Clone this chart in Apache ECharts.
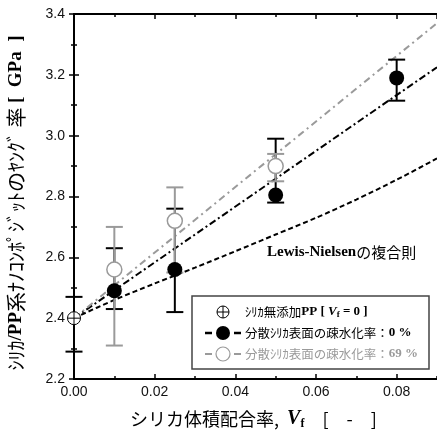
<!DOCTYPE html>
<html><head><meta charset="utf-8">
<script src="https://cdn.jsdelivr.net/npm/echarts@6/dist/echarts.min.js"></script>
<style>html,body{margin:0;padding:0;background:#fff}#c{width:437px;height:438px}</style>
</head><body><div id="c"></div>
<script>
// ---- data ----
const xTickLabels = ['0.00', '0.02', '0.04', '0.06', '0.08'];

const vfPure = [0.00];
const ePure = [2.40];
const ePureLow = [2.29];
const ePureHigh = [2.47];

const vf0 = [0.01, 0.025, 0.05, 0.08];
const e0 = [2.49, 2.56, 2.805, 3.19];
const e0Low = [2.43, 2.42, 2.78, 3.115];
const e0High = [2.63, 2.76, 2.99, 3.25];

const vf69 = [0.01, 0.025, 0.05];
const e69 = [2.56, 2.72, 2.90];
const e69Low = [2.31, 2.55, 2.85];
const e69High = [2.70, 2.83, 2.94];

const lnVf = [0, 0.01, 0.02, 0.03, 0.04, 0.05, 0.06, 0.07, 0.08, 0.09];
const lnE = [2.400, 2.460, 2.514, 2.566, 2.620, 2.675, 2.730, 2.790, 2.855, 2.925];

const fit0Vf = [0, 0.09];
const fit0E = [2.40, 3.225];
const fit69Vf = [0, 0.09];
const fit69E = [2.40, 3.37];

// ---- helpers ----
const zip = (a, b) => a.map((v, i) => [v, b[i]]);
const zip3 = (a, b, c) => a.map((v, i) => [v, b[i], c[i]]);
const GREY = '#9a9a9a';
const JP = '"Noto Sans CJK JP", sans-serif';
const SERIF = '"Liberation Serif", "DejaVu Serif", serif';
const SANS = '"Liberation Sans", Arial, sans-serif';

function errRender(color) {
  return function (params, api) {
    const x = api.value(0), lo = api.value(1), hi = api.value(2);
    const p1 = api.coord([x, lo]), p2 = api.coord([x, hi]);
    const hw = 8.5;
    const st = { stroke: color, lineWidth: 2 };
    return { type: 'group', children: [
      { type: 'line', shape: { x1: p1[0], y1: p1[1], x2: p2[0], y2: p2[1] }, style: st },
      { type: 'line', shape: { x1: p1[0] - hw, y1: p1[1], x2: p1[0] + hw, y2: p1[1] }, style: st },
      { type: 'line', shape: { x1: p2[0] - hw, y1: p2[1], x2: p2[0] + hw, y2: p2[1] }, style: st }
    ]};
  };
}
function oplusRender(params, api) {
  const p = api.coord([api.value(0), api.value(1)]);
  const r = 6.5;
  const st = { stroke: '#000', lineWidth: 1 };
  return { type: 'group', children: [
    { type: 'circle', shape: { cx: p[0], cy: p[1], r: r }, style: { fill: '#fff', stroke: '#000', lineWidth: 1 } },
    { type: 'line', shape: { x1: p[0] - r, y1: p[1], x2: p[0] + r, y2: p[1] }, style: st },
    { type: 'line', shape: { x1: p[0], y1: p[1] - r, x2: p[0], y2: p[1] + r }, style: st }
  ]};
}

const chart = echarts.init(document.getElementById('c'), null, { renderer: 'canvas' });

const axisLineStyle = { show: true, lineStyle: { color: '#000', width: 2 } };
const tickStyle = { color: '#000', width: 1.5 };
const xBase = { type: 'value', min: 0, max: 0.09, gridIndex: 0, splitLine: { show: false } };
const fmtX = v => { const s = v.toFixed(2); return xTickLabels.indexOf(s) >= 0 ? s : ''; };

const option = {
  animation: false,
  backgroundColor: '#fff',
  grid: { left: 74, top: 14, width: 364, height: 365, containLabel: false },
  xAxis: [
    Object.assign({}, xBase, {
      position: 'bottom', interval: 0.02, axisLine: axisLineStyle,
      axisTick: { show: true, inside: true, length: 5, lineStyle: tickStyle },
      axisLabel: { show: true, showMaxLabel: false, margin: 6, fontSize: 14, color: '#111', fontFamily: SANS, formatter: fmtX }
    }),
    Object.assign({}, xBase, {
      position: 'bottom', interval: 0.01, axisLine: { show: false },
      axisTick: { show: true, inside: true, length: 3, lineStyle: tickStyle },
      axisLabel: { show: false }
    }),
    Object.assign({}, xBase, {
      position: 'top', interval: 0.02, axisLine: axisLineStyle,
      axisTick: { show: true, inside: true, length: 5, lineStyle: tickStyle },
      axisLabel: { show: false }
    }),
    Object.assign({}, xBase, {
      position: 'top', interval: 0.01, axisLine: { show: false },
      axisTick: { show: true, inside: true, length: 3, lineStyle: tickStyle },
      axisLabel: { show: false }
    })
  ],
  yAxis: [
    {
      type: 'value', min: 2.2, max: 3.4, interval: 0.2, position: 'left',
      axisLine: axisLineStyle, splitLine: { show: false },
      axisTick: { show: true, inside: true, length: 5, lineStyle: tickStyle },
      minorTick: { show: true, splitNumber: 2, length: 3, lineStyle: tickStyle },
      axisLabel: { margin: 9, fontSize: 14, color: '#111', fontFamily: SANS, formatter: v => v.toFixed(1) }
    },
    {
      type: 'value', min: 2.2, max: 3.4, interval: 0.2, position: 'right',
      axisLine: axisLineStyle, splitLine: { show: false },
      axisTick: { show: true, inside: true, length: 5, lineStyle: tickStyle },
      minorTick: { show: true, splitNumber: 2, length: 3, lineStyle: tickStyle },
      axisLabel: { show: false }
    }
  ],
  series: [
    { type: 'line', name: 'Lewis-Nielsen', data: zip(lnVf, lnE), showSymbol: false, smooth: 0.3,
      lineStyle: { color: '#000', width: 2, type: [5, 3] }, z: 2, silent: true },
    { type: 'line', name: 'fit0', data: zip(fit0Vf, fit0E), showSymbol: false,
      lineStyle: { color: '#000', width: 2, type: [7, 3, 2, 3] }, z: 2, silent: true },
    { type: 'line', name: 'fit69', data: zip(fit69Vf, fit69E), showSymbol: false,
      lineStyle: { color: GREY, width: 2, type: [7, 4, 2, 4] }, z: 2, silent: true },
    { type: 'custom', name: 'errPure', renderItem: errRender('#000'), data: zip3(vfPure, ePureLow, ePureHigh), encode: { x: 0, y: [1, 2] }, z: 3 },
    { type: 'custom', name: 'err0', renderItem: errRender('#000'), data: zip3(vf0, e0Low, e0High), encode: { x: 0, y: [1, 2] }, z: 3 },
    { type: 'custom', name: 'err69', renderItem: errRender(GREY), data: zip3(vf69, e69Low, e69High), encode: { x: 0, y: [1, 2] }, z: 3 },
    { type: 'scatter', name: 'pt0', data: zip(vf0, e0), symbol: 'circle', symbolSize: 15,
      itemStyle: { color: '#000', opacity: 1 }, z: 4 },
    { type: 'scatter', name: 'pt69', data: zip(vf69, e69), symbol: 'circle', symbolSize: 15,
      itemStyle: { color: '#fff', borderColor: GREY, borderWidth: 1.5, opacity: 1 }, z: 4 },
    { type: 'custom', name: 'ptPure', renderItem: oplusRender, data: zip(vfPure, ePure), encode: { x: 0, y: 1 }, z: 5 }
  ],
  graphic: [
    // y-axis title
    { type: 'text', x: 16, y: 203, rotation: Math.PI / 2, z: 10,
      style: { text: '{j|ｼﾘｶ}{s|/PP}{j|系ﾅﾉｺﾝﾎﾟｼﾞｯﾄのﾔﾝｸﾞ 率 }{s|[  GPa  ]}', align: 'center', verticalAlign: 'middle',
        rich: { j: { fontFamily: JP, fontSize: 20, fill: '#000' }, s: { fontFamily: SERIF, fontWeight: 'bold', fontSize: 19, fill: '#000' } } } },
    // x-axis title
    { type: 'text', x: 130, y: 419, z: 10,
      style: { text: '{j|シリカ体積配合率,  }{v|V}{sub|f}{j|　[　-　]}', align: 'left', verticalAlign: 'middle',
        rich: { j: { fontFamily: JP, fontSize: 18, fill: '#000' },
                v: { fontFamily: SERIF, fontStyle: 'italic', fontWeight: 'bold', fontSize: 20, fill: '#000' },
                sub: { fontFamily: SERIF, fontWeight: 'bold', fontSize: 12, fill: '#000', padding: [10, 0, 0, 0] } } } },
    // annotation
    { type: 'text', x: 267, y: 252, z: 10,
      style: { text: '{b|Lewis-Nielsen}{j|の複合則}', align: 'left', verticalAlign: 'middle',
        rich: { b: { fontFamily: SERIF, fontWeight: 'bold', fontSize: 15, fill: '#000' }, j: { fontFamily: JP, fontSize: 15, fill: '#000' } } } },
    // legend box
    { type: 'rect', z: 20, shape: { x: 192, y: 296, width: 237, height: 73 }, style: { fill: '#fff', stroke: '#444', lineWidth: 1.5 } },
    // row 1 symbol
    { type: 'circle', z: 21, shape: { cx: 223, cy: 312, r: 6 }, style: { fill: '#fff', stroke: '#000', lineWidth: 1 } },
    { type: 'line', z: 21, shape: { x1: 217, y1: 312, x2: 229, y2: 312 }, style: { stroke: '#000', lineWidth: 1 } },
    { type: 'line', z: 21, shape: { x1: 223, y1: 306, x2: 223, y2: 318 }, style: { stroke: '#000', lineWidth: 1 } },
    // row 2 symbol
    { type: 'line', z: 21, shape: { x1: 205, y1: 333, x2: 212, y2: 333 }, style: { stroke: '#000', lineWidth: 2.5 } },
    { type: 'line', z: 21, shape: { x1: 234, y1: 333, x2: 241, y2: 333 }, style: { stroke: '#000', lineWidth: 2.5 } },
    { type: 'circle', z: 21, shape: { cx: 223, cy: 333, r: 7 }, style: { fill: '#000' } },
    // row 3 symbol
    { type: 'line', z: 21, shape: { x1: 205, y1: 354, x2: 212, y2: 354 }, style: { stroke: GREY, lineWidth: 2 } },
    { type: 'line', z: 21, shape: { x1: 234, y1: 354, x2: 241, y2: 354 }, style: { stroke: GREY, lineWidth: 2 } },
    { type: 'circle', z: 21, shape: { cx: 223, cy: 354, r: 7 }, style: { fill: '#fff', stroke: GREY, lineWidth: 1.2 } },
    // legend texts
    { type: 'text', z: 21, x: 245, y: 312,
      style: { text: '{j|ｼﾘｶ無添加}{b|PP [ }{v|V}{sub|f}{b| = 0 ]}', align: 'left', verticalAlign: 'middle',
        rich: { j: { fontFamily: JP, fontSize: 12.5, fill: '#000' }, b: { fontFamily: SERIF, fontWeight: 'bold', fontSize: 13, fill: '#000' },
                v: { fontFamily: SERIF, fontStyle: 'italic', fontWeight: 'bold', fontSize: 13, fill: '#000' },
                sub: { fontFamily: SERIF, fontWeight: 'bold', fontSize: 9, fill: '#000', padding: [6, 0, 0, 0] } } } },
    { type: 'text', z: 21, x: 245, y: 333,
      style: { text: '{j|分散ｼﾘｶ表面の疎水化率：}{b|0 %}', align: 'left', verticalAlign: 'middle',
        rich: { j: { fontFamily: JP, fontSize: 12.5, fill: '#000' }, b: { fontFamily: SERIF, fontWeight: 'bold', fontSize: 13, fill: '#000' } } } },
    { type: 'text', z: 21, x: 245, y: 354,
      style: { text: '{j|分散ｼﾘｶ表面の疎水化率：}{b|69 %}', align: 'left', verticalAlign: 'middle',
        rich: { j: { fontFamily: JP, fontSize: 12.5, fill: GREY }, b: { fontFamily: SERIF, fontWeight: 'bold', fontSize: 13, fill: GREY } } } }
  ]
};
chart.setOption(option);
</script>
</body></html>
